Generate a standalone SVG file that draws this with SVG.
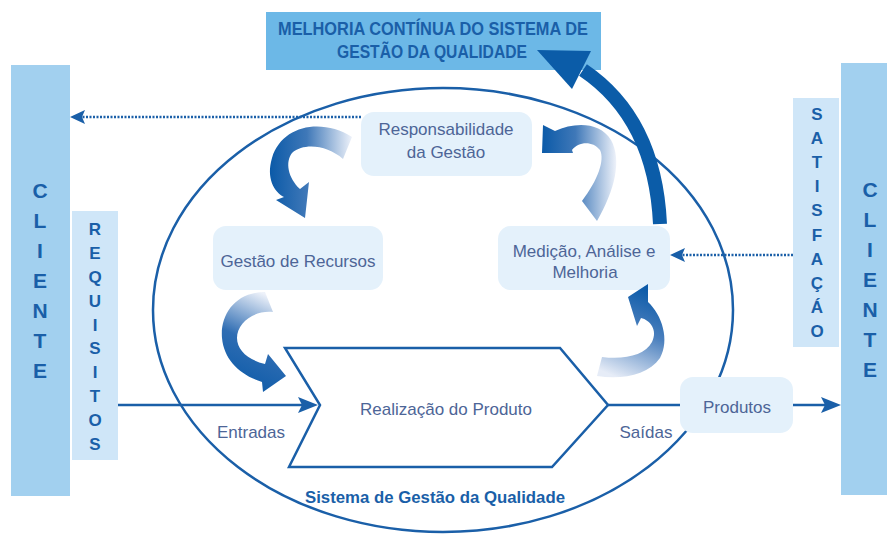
<svg xmlns="http://www.w3.org/2000/svg" width="887" height="537" viewBox="0 0 887 537">
<style>
.bar{fill:#a2d0ef}
.sub{fill:#cfe6f8}
.box{fill:#e4f1fb}
.vt{font-family:"Liberation Sans",Arial,sans-serif;font-weight:bold;fill:#1a5fa8;text-anchor:middle}
.nt{font-family:"Liberation Sans",Arial,sans-serif;font-size:17px;fill:#4d6597;text-anchor:middle}
.ln{stroke:#1a5fa8;stroke-width:2.5;fill:none}
.dot{stroke:#1a5fa8;stroke-width:2.5;fill:none;stroke-dasharray:2 1.5}
.ah{fill:#1a5fa8}
</style>
<defs>
<linearGradient id="gH" x1="0" y1="0" x2="1" y2="0">
<stop offset="0" stop-color="#0b5aa8"/><stop offset="0.45" stop-color="#3f78b8"/><stop offset="1" stop-color="#eef2fa"/>
</linearGradient>
<linearGradient id="gV3" x1="0.6" y1="0" x2="0.3" y2="1">
<stop offset="0" stop-color="#eef2fa"/><stop offset="0.5" stop-color="#2f6db3"/><stop offset="1" stop-color="#0b5aa8"/>
</linearGradient>
<linearGradient id="gV4" x1="0.6" y1="0" x2="0.3" y2="1">
<stop offset="0" stop-color="#0b5aa8"/><stop offset="0.45" stop-color="#4a7fbd"/><stop offset="1" stop-color="#e6ecf7"/>
</linearGradient>
</defs>

<g id="melhoria">
<rect x="266" y="12" width="335" height="58" fill="#6cb8e7"/>
<text class="vt" x="433" y="35" font-size="19" textLength="310" lengthAdjust="spacingAndGlyphs">MELHORIA CONTÍNUA DO SISTEMA DE</text>
<text class="vt" x="432" y="58" font-size="19" textLength="190" lengthAdjust="spacingAndGlyphs">GESTÃO DA QUALIDADE</text>
</g>

<g id="cliente-esq">
<rect class="bar" x="11" y="65" width="59" height="431"/>
<text class="vt" font-size="21"><tspan x="40" y="198">C</tspan><tspan x="40" y="228">L</tspan><tspan x="40" y="258">I</tspan><tspan x="40" y="288">E</tspan><tspan x="40" y="318">N</tspan><tspan x="40" y="348">T</tspan><tspan x="40" y="378">E</tspan></text>
</g>

<g id="requisitos">
<rect class="sub" x="72" y="211" width="46" height="249"/>
<text class="vt" font-size="17"><tspan x="95" y="235">R</tspan><tspan x="95" y="259">E</tspan><tspan x="95" y="283">Q</tspan><tspan x="95" y="307">U</tspan><tspan x="95" y="331">I</tspan><tspan x="95" y="354">S</tspan><tspan x="95" y="378">I</tspan><tspan x="95" y="402">T</tspan><tspan x="95" y="426">O</tspan><tspan x="95" y="450">S</tspan></text>
</g>

<g id="cliente-dir">
<rect class="bar" x="841" y="63" width="46" height="432"/>
<text class="vt" font-size="21"><tspan x="870" y="197">C</tspan><tspan x="870" y="227">L</tspan><tspan x="870" y="257">I</tspan><tspan x="870" y="287">E</tspan><tspan x="870" y="317">N</tspan><tspan x="870" y="347">T</tspan><tspan x="870" y="377">E</tspan></text>
</g>

<g id="satisfacao">
<rect class="sub" x="793" y="98" width="46" height="249"/>
<text class="vt" font-size="17"><tspan x="817" y="120">S</tspan><tspan x="817" y="144">A</tspan><tspan x="817" y="168">T</tspan><tspan x="817" y="192">I</tspan><tspan x="817" y="216">S</tspan><tspan x="817" y="241">F</tspan><tspan x="817" y="265">A</tspan><tspan x="817" y="289">Ç</tspan><tspan x="817" y="313">Á</tspan><tspan x="817" y="337">O</tspan></text>
</g>

<g id="sistema">
<ellipse class="ln" cx="443" cy="310" rx="290" ry="222" stroke-width="2"/>
<text class="vt" x="435" y="503" font-size="17" textLength="260" lengthAdjust="spacingAndGlyphs">Sistema de Gestão da Qualidade</text>
</g>

<g id="responsabilidade">
<rect class="box" x="361" y="112" width="171" height="64" rx="13"/>
<text class="nt" x="446" y="135">Responsabilidade</text>
<text class="nt" x="446" y="158">da Gestão</text>
</g>

<g id="recursos">
<rect class="box" x="213" y="226" width="170" height="64" rx="13"/>
<text class="nt" x="298" y="267">Gestão de Recursos</text>
</g>

<g id="medicao">
<rect class="box" x="498" y="226" width="172" height="64" rx="13"/>
<text class="nt" x="584" y="257">Medição, Análise e</text>
<text class="nt" x="585" y="278">Melhoria</text>
</g>

<g id="realizacao">
<polygon points="285,348 560,348 608,405 552,467 289,467 320,405" fill="#ffffff" stroke="#1a5fa8" stroke-width="2.5" stroke-linejoin="miter"/>
<text class="nt" x="446" y="415">Realização do Produto</text>
</g>

<g id="produtos">
<rect class="box" x="680" y="377" width="113" height="56" rx="13"/>
<text class="nt" x="737" y="413">Produtos</text>
</g>

<g id="connectors">
<line class="ln" x1="118" y1="405" x2="302" y2="405"/>
<polygon class="ah" points="318,405 298,397 302,405 298,413"/>
<text class="nt" x="251" y="438">Entradas</text>
<line class="ln" x1="608" y1="405" x2="680" y2="405"/>
<text class="nt" x="646" y="438">Saídas</text>
<line class="ln" x1="793" y1="405" x2="826" y2="405"/>
<polygon class="ah" points="841,405 821,397 825,405 821,413"/>
<line class="dot" x1="361" y1="117" x2="82" y2="117"/>
<polygon class="ah" points="70,117 85,110 82,117 85,124"/>
<line class="dot" x1="793" y1="255" x2="682" y2="255"/>
<polygon class="ah" points="670,255 685,248 682,255 685,262"/>
<path d="M 660 224 C 657 160, 635 105, 583 70" fill="none" stroke="#0b5ca8" stroke-width="14"/>
<polygon points="537,50 591,51 572,89" fill="#0b5ca8"/>
<path d="M 352 137 C 322 118, 282 125, 272 158 C 266 178, 274 192, 284 197 L 276 200 L 305 218 L 309 182 L 300 189 C 288 178, 285 162, 292 153 C 305 142, 328 146, 343 159 Z" fill="url(#gH)"/>
<path d="M 543 125 L 555 131 C 575 122, 600 122, 611 140 C 622 160, 615 190, 597 221 L 582 201 C 598 180, 605 160, 600 150 C 592 140, 578 142, 572 150 L 573 153 L 542 153 Z" fill="url(#gH)"/>
<path d="M 265 292 C 235 292, 220 315, 222 338 C 224 360, 240 375, 262 382 L 263 392 L 286 376 L 268 354 L 265 364 C 248 360, 237 350, 237 338 C 237 322, 255 310, 273 312 Z" fill="url(#gV3)"/>
<path d="M 628 297 L 648 284 L 648 302 C 662 315, 670 340, 660 358 C 648 375, 622 380, 597 376 L 602 357 C 625 360, 645 355, 652 342 C 658 330, 650 320, 641 318 L 637 326 Z" fill="url(#gV4)"/>
</g>
</svg>
